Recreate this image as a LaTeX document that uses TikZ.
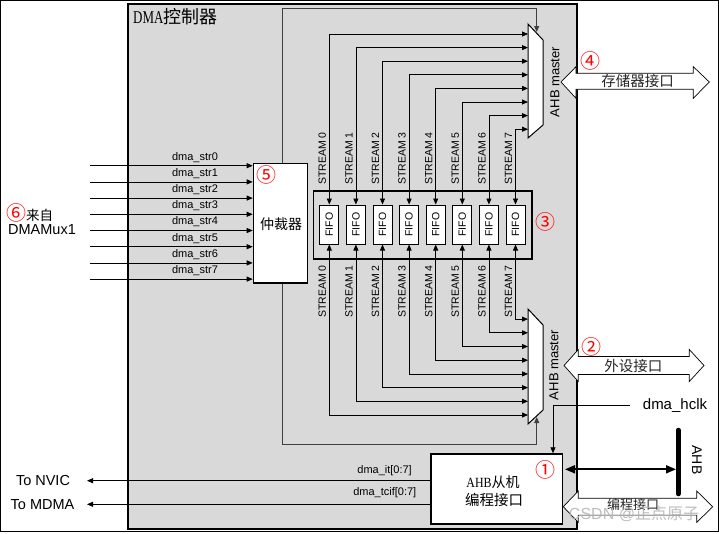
\documentclass[tikz,border=0pt]{standalone}
\usepackage{fontspec}
\usepackage{graphicx}
\setmainfont{Liberation Sans}
\newfontfamily\cjk{Noto Sans CJK SC}
\newfontfamily\serifc{Liberation Serif}
\usetikzlibrary{arrows.meta}
\newcommand{\fsz}[1]{\fontsize{#1}{#1}\selectfont}
\tikzset{
  lin/.style={line width=0.8pt, draw=black},
  tipend/.style={-{Triangle[length=6pt,width=5pt]}},
  tipboth/.style={{Triangle[length=6pt,width=5pt]}-{Triangle[length=6pt,width=5pt]}},
  thickbox/.style={draw, line width=1.5pt, fill=white, inner sep=0pt},
  fifobox/.style={draw, line width=1pt, fill=white, minimum width=19pt, minimum height=39pt, inner sep=0pt},
  hollow/.style={draw, line width=0.7pt, fill=white},
  num/.style={text=red, font=\cjk\fsz{20}, inner sep=0pt},
  strlab/.style={rotate=90, anchor=west, inner sep=0pt, font=\fsz{10.5}},
  sig/.style={font=\fsz{11}, inner sep=0pt},
}
\begin{document}
\begin{tikzpicture}[x=1pt,y=-1pt]
\useasboundingbox (0,0) rectangle (719,533);
\draw[line width=1.2pt] (0.6,0.6) rectangle (718.4,531.8);
% DMA controller box
\node[draw, line width=1.6pt, fill=black!15, anchor=north west, minimum width=449pt, minimum height=525pt, inner sep=0pt] (dma) at (127,3) {};
\node[anchor=west, inner sep=0pt] (title) at (133,17) {\serifc\fsz{18}\scalebox{0.72}[1]{DMA}{\cjk 控制器}};
% loop line
\coordinate (mtop) at (536.7,32);
\coordinate (mbot) at (536.7,417);
\draw[lin, draw=black!75, tipboth] (mtop) -- (536.7,8) -- (282,8) -- (282,444) -- (536.7,444) -- (mbot);
% FIFO group
\node[draw, line width=1.5pt, minimum width=218.3pt, minimum height=68pt, anchor=north west, inner sep=0pt] (fifos) at (312.7,190) {};
\foreach \i in {0,...,7}{
  \pgfmathsetmacro\xs{329.3+26.6*\i}
  \pgfmathsetmacro\yu{34+13.6*\i}
  \pgfmathsetmacro\yl{415-13.7*\i}
  \node[fifobox] (f\i) at (\xs,224.5) {\rotatebox{90}{\fsz{10.5}FIFO}};
  \coordinate (mu\i) at (528,\yu);
  \coordinate (ml\i) at (528,\yl);
  \draw[lin, tipboth] (f\i.north) |- (mu\i);
  \draw[lin, tipboth] (f\i.south) |- (ml\i);
  \node[strlab] at (\xs-7,185) {STREAM \i};
  \node[strlab] at (\xs-7,318) {STREAM \i};
}
\node[num] at (545,222) {③};
% muxes
\draw[line width=1pt, fill=white] (528,24) -- (543,40) -- (543,125) -- (528,138) -- cycle;
\draw[line width=1pt, fill=white] (528,309) -- (543,325) -- (543,410) -- (528,424) -- cycle;
\node[rotate=90, font=\fsz{13}, inner sep=0pt] at (555,82) {AHB master};
\node[rotate=90, font=\fsz{13}, inner sep=0pt] at (554,365) {AHB master};
% arbiter
\node[thickbox, minimum width=54pt, minimum height=119.3pt, anchor=north west] (arb) at (252.7,162.7) {};
\node[font=\cjk\fsz{14}, inner sep=0pt] at (281,224) {仲裁器};
\node[num] at (266,175) {⑤};
\foreach \k in {0,...,7}{
  \pgfmathsetmacro\yy{165.7+16.2*\k}
  \coordinate (in\k) at (90,\yy);
  \draw[lin, tipend] (in\k) -- (in\k -| arb.west);
  \node[sig] at (195,\yy-8.4) {dma\_str\k};
}
\node[anchor=west, inner sep=0pt] at (6,213) {{\color{red}\cjk\fsz{20}⑥}{\cjk\fsz{13.5}来自}};
\node[anchor=west, inner sep=0pt, font=\fsz{14.5}] at (8,229.5) {DMAMux1};
% AHB slave
\node[thickbox, minimum width=131.7pt, minimum height=70pt, anchor=north west] (slv) at (430,453.3) {};
\node[inner sep=0pt] at (493,481.7) {\serifc\fsz{14}\scalebox{0.85}[1]{AHB}{\cjk 从机}};
\node[inner sep=0pt, font=\cjk\fsz{14.5}] at (494,500) {编程接口};
\node[num] at (545,470) {①};
\coordinate (nv) at (87,480.7);
\coordinate (md) at (87,504.3);
\draw[lin, tipend] (slv.west |- nv) -- (nv);
\draw[lin, tipend] (slv.west |- md) -- (md);
\node[sig, anchor=east] at (412,470.7) {dma\_it[0:7]};
\node[sig, anchor=east] at (416.5,492.7) {dma\_tcif[0:7]};
\node[font=\fsz{14.5}, inner sep=0pt] (nvic) at (43,480.5) {To NVIC};
\node[font=\fsz{14.5}, inner sep=0pt] (mdma) at (42.5,504.5) {To MDMA};
% hclk
\node[font=\fsz{15}, inner sep=0pt] (hclk) at (675,406) {dma\_hclk};
\coordinate (hc) at (630,405.7);
\coordinate (hk) at (553,405.7);
\draw[lin, tipend] (hc) -- (hk) -- (hk |- slv.north);
% AHB bus
\coordinate (bt) at (678.3,430);
\coordinate (bb) at (678.3,494);
\draw[line width=4.5pt, line cap=round] (bt) -- (bb);
\coordinate (da1) at (565,469.3);
\coordinate (da2) at (676,469.3);
\draw[line width=1.8pt, {Triangle[length=10pt,width=8pt]}-{Triangle[length=10pt,width=8pt]}] (da1) -- (da2);
\node[rotate=-90, font=\fsz{14}, inner sep=0pt] at (697,460) {AHB};
% hollow arrows
\path[hollow] (561,82) -- (576,66.7) -- (576,73.3) -- (693.3,73.3) -- (693.3,66.7) -- (709.3,82) -- (693.3,98.3) -- (693.3,89.3) -- (576,89.3) -- (576,98.3) -- cycle;
\node[font=\cjk\fsz{14.5}, text=black!85, inner sep=0pt] at (637.7,81) {存储器接口};
\node[num] at (590,60.7) {④};
\path[hollow] (564,365.5) -- (578.3,349.5) -- (578.3,356.5) -- (689.3,356.5) -- (689.3,349.5) -- (704,365.5) -- (689.3,381.5) -- (689.3,374.5) -- (578.3,374.5) -- (578.3,381.5) -- cycle;
\node[font=\cjk\fsz{14.5}, text=black!85, inner sep=0pt] at (633.3,366) {外设接口};
\node[num] at (591.7,346.7) {②};
\path[hollow] (563.3,506.7) -- (578.3,491) -- (578.3,498.3) -- (696.7,498.3) -- (696.7,491) -- (712.7,506.7) -- (696.7,522.4) -- (696.7,515.1) -- (578.3,515.1) -- (578.3,522.4) -- cycle;
\node[font=\cjk\fsz{13}, text=black!85, inner sep=0pt] at (633,505) {编程接口};
\node[text=gray!60, text opacity=0.85, font=\fsz{16}, inner sep=0pt] at (634,514) {CSDN @{\cjk 正点原子}};
\end{tikzpicture}
\end{document}
